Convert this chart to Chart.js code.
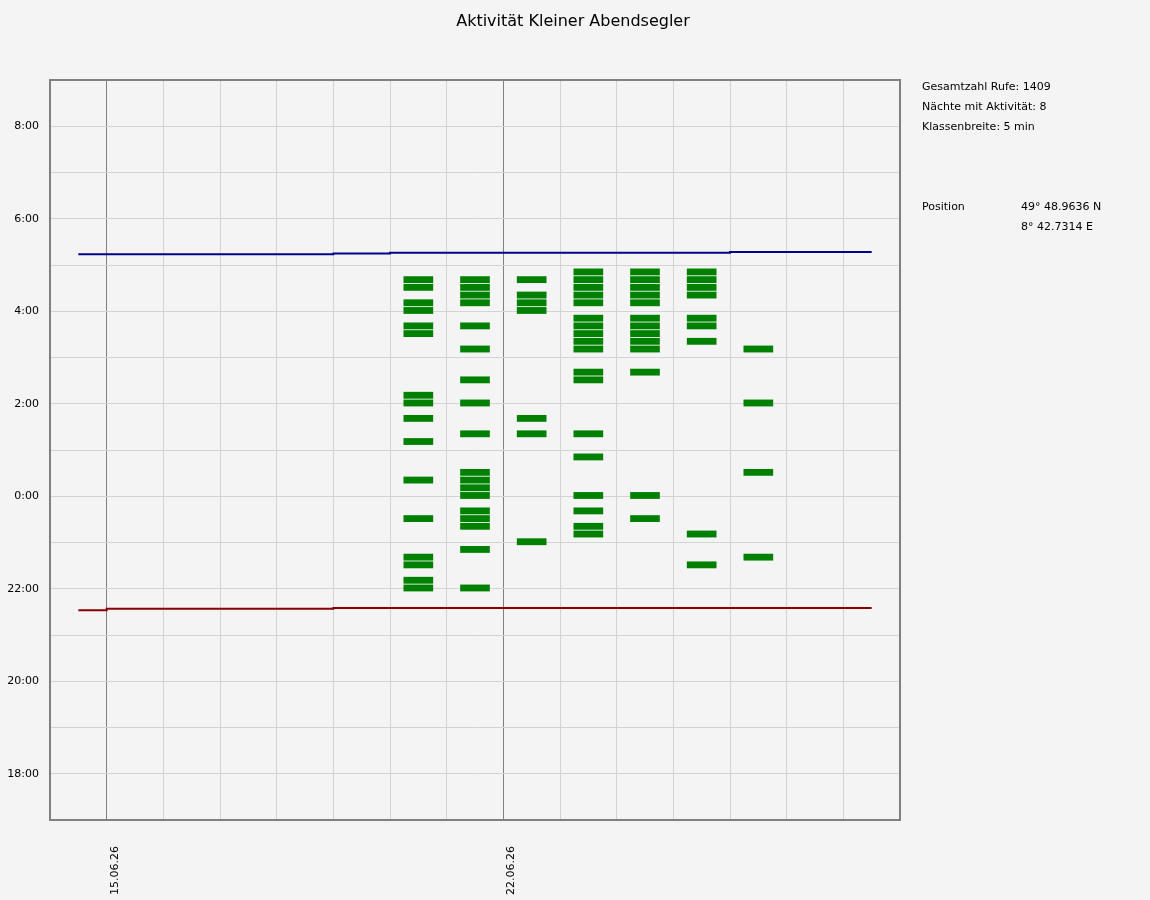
<!DOCTYPE html>
<html lang="de">
<head>
<meta charset="utf-8">
<title>Aktivität Kleiner Abendsegler</title>
<script src="https://cdn.jsdelivr.net/npm/chart.js@4.4.1/dist/chart.umd.min.js"></script>
<style>
  html, body { margin: 0; padding: 0; background: #f4f4f4; }
  #wrap { position: relative; width: 1150px; height: 900px; font-family: "DejaVu Sans", sans-serif; color: #000; }
  #chart { position: absolute; left: 0; top: 0; }
  #title { position: absolute; left: 0; top: 11px; width: 1146px; text-align: center; font-size: 16px; }
  .info { position: absolute; font-size: 11px; white-space: nowrap; }
</style>
</head>
<body>
<div id="wrap">
  <canvas id="chart" width="1150" height="900"></canvas>
  <div id="title">Aktivität Kleiner Abendsegler</div>
  <div class="info" style="left:922px; top:80px;">Gesamtzahl Rufe: 1409</div>
  <div class="info" style="left:922px; top:100px;">Nächte mit Aktivität: 8</div>
  <div class="info" style="left:922px; top:120px;">Klassenbreite: 5 min</div>
  <div class="info" style="left:922px; top:200px;">Position</div>
  <div class="info" style="left:1021px; top:200px;">49° 48.9636 N</div>
  <div class="info" style="left:1021px; top:220px;">8° 42.7314 E</div>
</div>
<script>
// Tage im Juni (x-Achse), Nacht beginnt am Abend des Datums
const nights = [20, 21, 22, 23, 24, 25, 26];

// 5-min-Klassen mit Aktivität, je Nacht (Klassenbeginn)
const calls20 = ['4:40','4:30','4:10','4:00','3:40','3:30','2:10','2:00','1:40','1:10','0:20','23:30','22:40','22:30','22:10','22:00'];
const calls21 = ['4:40','4:30','4:20','4:10','3:40','3:10','2:30','2:00','1:20','0:30','0:20','0:10','0:00','23:40','23:30','23:20','22:50','22:00'];
const calls22 = ['4:40','4:20','4:10','4:00','1:40','1:20','23:00'];
const calls23 = ['4:50','4:40','4:30','4:20','4:10','3:50','3:40','3:30','3:20','3:10','2:40','2:30','1:20','0:50','0:00','23:40','23:20','23:10'];
const calls24 = ['4:50','4:40','4:30','4:20','4:10','3:50','3:40','3:30','3:20','3:10','2:40','0:00','23:30'];
const calls25 = ['4:50','4:40','4:30','4:20','3:50','3:40','3:20','23:10','22:30'];
const calls26 = ['3:10','2:00','0:30','22:40'];
const nightCalls = [calls20, calls21, calls22, calls23, calls24, calls25, calls26];

// Sonnenuntergang / Sonnenaufgang je Tag
const sunDays = [14, 15, 16, 17, 18, 19, 20, 21, 22, 23, 24, 25, 26, 27, 28];
const sunset  = ['21:32','21:34','21:34','21:34','21:34','21:35','21:35','21:35','21:35','21:35','21:35','21:35','21:35','21:35','21:35'];
const sunrise = ['5:14','5:14','5:14','5:14','5:14','5:15','5:16','5:16','5:16','5:16','5:16','5:16','5:17','5:17','5:17'];

// Achsenbeschriftungen
const dayLabels = { 15: '15.06.26', 22: '22.06.26' };
const timeTicks = ['18:00','20:00','22:00','0:00','2:00','4:00','6:00','8:00'];

function toMin(s) {
    const [h, m] = s.split(':').map(Number);
    let v = h * 60 + m;
    if (h >= 12) v -= 1440;
    return v;
}

function fmtMin(v) {
    const h = ((Math.round(v / 60) % 24) + 24) % 24;
    return h + ':00';
}

const barData = nightCalls.flatMap((arr, i) =>
    arr.map(t => ({ x: nights[i] + 0.5, y: [toMin(t) - 3, toMin(t) + 5] })));

const frame = {
    id: 'frame',
    afterDraw(chart) {
        const { ctx, chartArea: a } = chart;
        ctx.save();
        ctx.strokeStyle = '#808080';
        ctx.lineWidth = 2;
        ctx.strokeRect(a.left, a.top, a.right - a.left, a.bottom - a.top);
        ctx.restore();
    }
};

new Chart(document.getElementById('chart'), {
    type: 'bar',
    data: {
        datasets: [
            {
                type: 'bar', data: barData, backgroundColor: '#008000',
                barThickness: 29, grouped: false, borderWidth: 0, order: 2
            },
            {
                type: 'line', data: sunDays.map((d, i) => ({ x: d + 0.5, y: toMin(sunset[i]) })),
                borderColor: '#8b0000', borderWidth: 2, pointRadius: 0, stepped: 'middle', fill: false, order: 1
            },
            {
                type: 'line', data: sunDays.map((d, i) => ({ x: d + 0.5, y: toMin(sunrise[i]) })),
                borderColor: '#00008b', borderWidth: 2, pointRadius: 0, stepped: 'middle', fill: false, order: 1
            }
        ]
    },
    options: {
        responsive: false,
        animation: false,
        layout: { padding: { top: 80, right: 250, left: 0, bottom: 0 } },
        plugins: { legend: { display: false }, tooltip: { enabled: false } },
        scales: {
            x: {
                type: 'linear', min: 14, max: 29, offset: false,
                afterFit: s => { s.height = 80; },
                grid: {
                    offset: false, drawTicks: false,
                    color: c => (c.tick && dayLabels[c.tick.value]) ? '#808080' : '#d3d3d3'
                },
                border: { color: '#808080', width: 2 },
                ticks: {
                    stepSize: 1, autoSkip: false, minRotation: 90, maxRotation: 90,
                    padding: 26, labelOffset: 8, color: '#000',
                    font: { family: 'DejaVu Sans', size: 11 },
                    callback: v => dayLabels[v] || ''
                }
            },
            y: {
                type: 'linear', min: -420, max: 540,
                afterFit: s => { s.width = 50; },
                grid: { drawTicks: false, color: '#d3d3d3' },
                border: { color: '#808080', width: 2 },
                ticks: {
                    stepSize: 60, padding: 11, color: '#000',
                    font: { family: 'DejaVu Sans', size: 11 },
                    callback: v => timeTicks.includes(fmtMin(v)) && v % 120 === 0 ? fmtMin(v) : ''
                }
            }
        }
    },
    plugins: [frame]
});
</script>
</body>
</html>
